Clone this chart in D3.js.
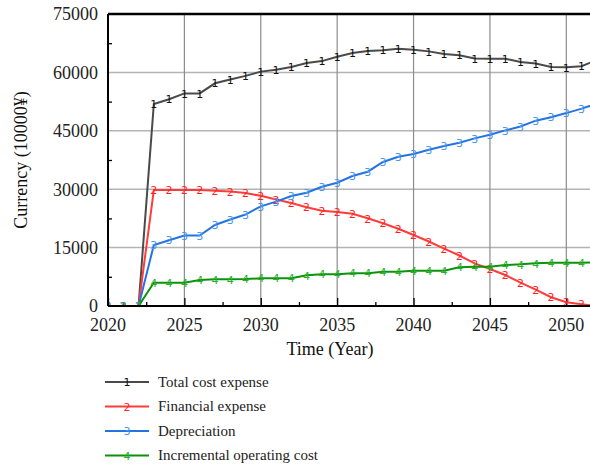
<!DOCTYPE html>
<html>
<head>
<meta charset="utf-8">
<script src="https://cdn.jsdelivr.net/npm/d3@7"></script>
<style>
    body { margin: 0; background: #fff; }
    .tick-label { font-family: "Liberation Serif", serif; font-size: 18px; fill: #222; }
    .axis-title { font-family: "Liberation Serif", serif; font-size: 18px; fill: #111; }
    .legend-label { font-family: "Liberation Serif", serif; font-size: 15px; fill: #222; }
    .marker { font-family: "DejaVu Sans", sans-serif; font-size: 11px; }
</style>
</head>
<body>
<div id="chart"></div>
<script>
// values, one per year
const years = [2020, 2021, 2022, 2023, 2024, 2025, 2026, 2027, 2028, 2029, 2030,
    2031, 2032, 2033, 2034, 2035, 2036, 2037, 2038, 2039, 2040,
    2041, 2042, 2043, 2044, 2045, 2046, 2047, 2048, 2049, 2050, 2051, 2052];

const totalCost = [0, 0, 0, 51900, 53100, 54600, 54600, 57200, 58200, 59100, 60200,
    60700, 61400, 62400, 62900, 64000, 65000, 65500, 65700, 66100, 65800,
    65400, 64700, 64400, 63600, 63500, 63500, 62700, 62300, 61400, 61300, 61600, 63200];

const financial = [0, 0, 0, 29800, 29800, 29800, 29800, 29600, 29400, 29000, 28300,
    27350, 26450, 25350, 24480, 24140, 23670, 22520, 21240, 19850, 18230,
    16560, 14720, 12970, 10960, 9500, 7960, 5980, 4190, 2260, 980, 460, 0];

const depreciation = [0, 0, 0, 15660, 16900, 18100, 18100, 20800, 22200, 23500, 25600,
    26800, 28250, 29100, 30640, 31660, 33380, 34490, 36980, 38350, 39030,
    40150, 41100, 41940, 43060, 44000, 45100, 46100, 47600, 48500, 49550, 50700, 52000];

const operating = [0, 0, 0, 5990, 5990, 5990, 6680, 6850, 6850, 6930, 7110,
    7110, 7110, 7880, 8140, 8140, 8400, 8400, 8810, 8810, 9070,
    9070, 9070, 9940, 10100, 10100, 10530, 10700, 10960, 11130, 11130, 11130, 11200];

const seriesNames = ['Total cost expense', 'Financial expense', 'Depreciation', 'Incremental operating cost'];
const seriesValues = [totalCost, financial, depreciation, operating];

const yTicks = [0, 15000, 30000, 45000, 60000, 75000];
const yMinorTicks = [7500, 22500, 37500, 52500, 67500];
const xTicks = [2020, 2025, 2030, 2035, 2040, 2045, 2050];
const xMinorTicks = [2022.5, 2027.5, 2032.5, 2037.5, 2042.5, 2047.5];

class LineChart {
    constructor(_config) {
        this.config = {
            parentElement: _config.parentElement,
            containerWidth: _config.containerWidth || 590,
            containerHeight: _config.containerHeight || 467,
            margin: { top: 14, bottom: 161, right: 0, left: 108 }
        };
        this.initVis();
    }

    initVis() {
        let vis = this;

        vis.width = vis.config.containerWidth - vis.config.margin.left - vis.config.margin.right;
        vis.height = vis.config.containerHeight - vis.config.margin.top - vis.config.margin.bottom;

        // plot is cut off at the right edge of the picture
        vis.xScale = d3.scaleLinear()
            .domain([2020, 2051.55])
            .range([0, vis.width]);

        vis.yScale = d3.scaleLinear()
            .domain([0, 75000])
            .range([vis.height, 0]);

        vis.lineColors = ['#4a4a4a', '#ff3b3b', '#2474e0', '#0d920d'];
        vis.markerColors = ['#111111', '#ff1f1f', '#4a98ef', '#28b028'];

        vis.svg = d3.select(vis.config.parentElement).append('svg')
            .attr('width', vis.config.containerWidth)
            .attr('height', vis.config.containerHeight);

        vis.svg.append('defs').append('clipPath')
            .attr('id', 'plot-clip')
            .append('rect')
            .attr('width', vis.width)
            .attr('height', vis.height);

        vis.chart = vis.svg.append('g')
            .attr('transform', `translate(${vis.config.margin.left},${vis.config.margin.top})`);

        // gridlines
        vis.chart.append('g').selectAll('line')
            .data(yTicks.slice(1, -1))
            .join('line')
            .attr('x1', 0)
            .attr('x2', vis.width)
            .attr('y1', d => vis.yScale(d))
            .attr('y2', d => vis.yScale(d))
            .attr('stroke', '#b4b4b4')
            .attr('stroke-width', 1.5);

        vis.chart.append('g').selectAll('line')
            .data(xTicks.slice(1))
            .join('line')
            .attr('x1', d => vis.xScale(d))
            .attr('x2', d => vis.xScale(d))
            .attr('y1', 0)
            .attr('y2', vis.height)
            .attr('stroke', '#8c8c8c')
            .attr('stroke-width', 1.2);

        // axes, ticks drawn inward
        vis.xAxis = d3.axisBottom(vis.xScale).tickValues(xTicks).tickSize(-8).tickFormat('');
        vis.xMinorAxis = d3.axisBottom(vis.xScale).tickValues(xMinorTicks).tickSize(-4).tickFormat('');
        vis.yMinorAxis = d3.axisLeft(vis.yScale).tickValues(yMinorTicks).tickSize(-4).tickFormat('');

        vis.chart.append('g')
            .attr('transform', `translate(0,${vis.height})`)
            .call(vis.xAxis)
            .call(g => g.select('.domain').remove())
            .selectAll('line').attr('stroke', '#000').attr('stroke-width', 1.3);

        vis.chart.append('g')
            .attr('transform', `translate(0,${vis.height})`)
            .call(vis.xMinorAxis)
            .call(g => g.select('.domain').remove())
            .selectAll('line').attr('stroke', '#000').attr('stroke-width', 1.3);

        vis.chart.append('g')
            .call(vis.yMinorAxis)
            .call(g => g.select('.domain').remove())
            .selectAll('line').attr('stroke', '#000').attr('stroke-width', 1.3);

        // tick labels
        vis.chart.append('g').selectAll('text')
            .data(yTicks)
            .join('text')
            .attr('class', 'tick-label')
            .attr('x', -10)
            .attr('y', d => vis.yScale(d))
            .attr('dy', '0.35em')
            .attr('text-anchor', 'end')
            .text(d => d);

        vis.chart.append('g').selectAll('text')
            .data(xTicks)
            .join('text')
            .attr('class', 'tick-label')
            .attr('x', d => vis.xScale(d))
            .attr('y', vis.height + 25)
            .attr('text-anchor', 'middle')
            .text(d => d);

        // axis titles
        vis.svg.append('text')
            .attr('class', 'axis-title')
            .attr('transform', `translate(27,${vis.config.margin.top + vis.height / 2}) rotate(-90)`)
            .attr('text-anchor', 'middle')
            .text('Currency (10000¥)');

        vis.svg.append('text')
            .attr('class', 'axis-title')
            .attr('x', 330)
            .attr('y', 355)
            .attr('text-anchor', 'middle')
            .text('Time (Year)');

        vis.plot = vis.chart.append('g')
            .attr('clip-path', 'url(#plot-clip)');

        vis.updateVis();
    }

    updateVis() {
        let vis = this;

        vis.series = seriesValues.map((vals, i) => ({
            id: i + 1,
            name: seriesNames[i],
            points: years.map((y, j) => ({ year: y, value: vals[j] }))
        }));

        vis.line = d3.line()
            .x(d => vis.xScale(d.year))
            .y(d => vis.yScale(d.value));

        vis.renderVis();
    }

    renderVis() {
        let vis = this;
        let lastYear = vis.xScale.domain()[1];

        vis.series.forEach((s, i) => {
            vis.plot.append('path')
                .datum(s.points)
                .attr('fill', 'none')
                .attr('stroke', vis.lineColors[i])
                .attr('stroke-width', 2)
                .attr('d', vis.line);

            // only label the points that fall inside the visible range
            vis.plot.append('g').selectAll('text')
                .data(s.points.filter(d => d.year < lastYear))
                .join('text')
                .attr('class', 'marker')
                .attr('x', d => vis.xScale(d.year))
                .attr('y', d => vis.yScale(d.value))
                .attr('dy', '0.38em')
                .attr('text-anchor', 'middle')
                .attr('fill', vis.markerColors[i])
                .text(s.id);
        });

        // frame lines on top
        vis.chart.append('line')
            .attr('x1', 0).attr('x2', vis.width)
            .attr('y1', 0).attr('y2', 0)
            .attr('stroke', '#000').attr('stroke-width', 2.5);
        vis.chart.append('line')
            .attr('x1', 0).attr('x2', 0)
            .attr('y1', 0).attr('y2', vis.height)
            .attr('stroke', '#000').attr('stroke-width', 2);
        vis.chart.append('line')
            .attr('x1', 0).attr('x2', vis.width)
            .attr('y1', vis.height).attr('y2', vis.height)
            .attr('stroke', '#000').attr('stroke-width', 2);

        // legend
        let legend = vis.svg.append('g')
            .selectAll('g')
            .data(vis.series)
            .join('g')
            .attr('transform', (d, i) => `translate(105,${382 + i * 24.5})`);

        legend.append('line')
            .attr('x1', 0).attr('x2', 44)
            .attr('stroke', (d, i) => vis.lineColors[i])
            .attr('stroke-width', 2);

        legend.append('text')
            .attr('class', 'marker')
            .attr('x', 22)
            .attr('dy', '0.38em')
            .attr('text-anchor', 'middle')
            .attr('fill', (d, i) => vis.markerColors[i])
            .text(d => d.id);

        legend.append('text')
            .attr('class', 'legend-label')
            .attr('x', 53)
            .attr('dy', '0.32em')
            .text(d => d.name);
    }
}

new LineChart({ parentElement: '#chart' });
</script>
</body>
</html>
